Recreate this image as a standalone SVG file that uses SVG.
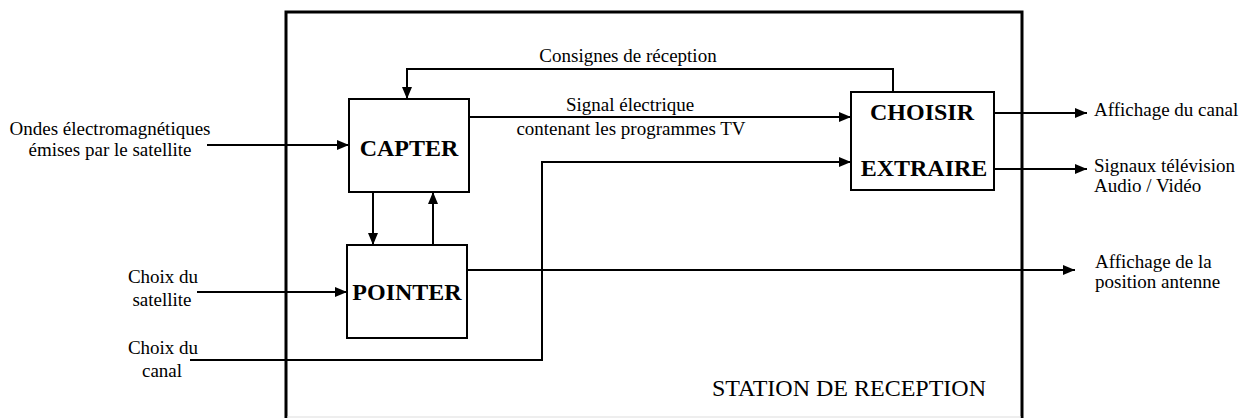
<svg xmlns="http://www.w3.org/2000/svg" width="1250" height="418" viewBox="0 0 1250 418">
<defs>
<marker id="ah" markerWidth="12" markerHeight="10" refX="12" refY="5" orient="auto" markerUnits="userSpaceOnUse">
<path d="M0,0 L12,5 L0,10 Z" fill="#000"/>
</marker>
<style>
.box{fill:#fff;stroke:#000;stroke-width:2}
.frame{fill:none;stroke:#000;stroke-width:3}
.bold{font-family:"Liberation Serif",serif;font-weight:bold;font-size:24px;text-anchor:middle}
.t{font-family:"Liberation Serif",serif;font-size:19px}
.c{text-anchor:middle}
.conn{fill:none;stroke:#000;stroke-width:2;marker-end:url(#ah)}
</style>
</defs>
<rect width="1250" height="418" fill="#fff"/>
<g id="station">
<path class="frame" d="M286,418 V12 H1022 V418"/>
<path d="M287,417 H1021" stroke="#ddd" stroke-width="1"/>
<text class="t c" x="849" y="396" style="font-size:24px">STATION DE RECEPTION</text>
</g>
<g id="connectors">
<path class="conn" d="M207,145 H349"/>
<path class="conn" d="M197,292 H347"/>
<path class="conn" d="M190,360 H542 V162 H851"/>
<path class="conn" d="M469,117 H851"/>
<path class="conn" d="M893,92 V69 H407 V99"/>
<path class="conn" d="M373,192 V245"/>
<path class="conn" d="M433,245 V192"/>
<path class="conn" d="M467,270 H1075"/>
<path class="conn" d="M994,113 H1087"/>
<path class="conn" d="M994,169 H1087"/>
</g>
<g id="capter">
<rect class="box" x="349" y="99" width="120" height="93"/>
<text class="bold" x="409" y="156">CAPTER</text>
</g>
<g id="pointer">
<rect class="box" x="347" y="245" width="120" height="93"/>
<text class="bold" x="407" y="300">POINTER</text>
</g>
<g id="choisir">
<rect class="box" x="851" y="92" width="143" height="98"/>
<text class="bold" x="922" y="120">CHOISIR</text>
<text class="bold" x="924" y="176">EXTRAIRE</text>
</g>
<g id="labels">
<text class="t c" x="628" y="62">Consignes de réception</text>
<text class="t c" x="630" y="111">Signal électrique</text>
<text class="t c" x="631" y="135">contenant les programmes TV</text>
<text class="t c" x="110" y="135">Ondes électromagnétiques</text>
<text class="t c" x="110" y="156">émises par le satellite</text>
<text class="t c" x="163" y="283">Choix du</text>
<text class="t c" x="162" y="306">satellite</text>
<text class="t c" x="163" y="354">Choix du</text>
<text class="t c" x="162" y="377">canal</text>
<text class="t" x="1094" y="116">Affichage du canal</text>
<text class="t" x="1094" y="172">Signaux télévision</text>
<text class="t" x="1094" y="192">Audio / Vidéo</text>
<text class="t" x="1095" y="268">Affichage de la</text>
<text class="t" x="1095" y="288">position antenne</text>
</g>
</svg>
